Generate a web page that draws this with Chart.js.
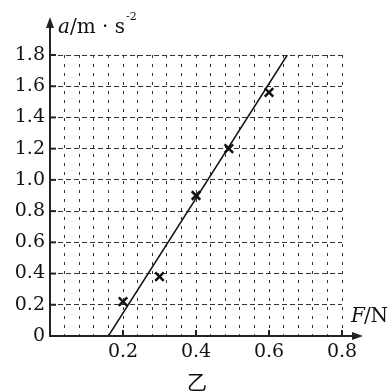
<!DOCTYPE html>
<html><head><meta charset="utf-8">
<style>html,body{margin:0;padding:0;background:#fff;}#wrap{width:391px;height:392px;position:relative;}</style>
<script src="https://cdn.jsdelivr.net/npm/chart.js@4/dist/chart.umd.min.js"></script>
</head><body>
<div id="wrap"><canvas id="c" width="391" height="392"></canvas></div>
<script>
// Data
const forceN = [0.2, 0.3, 0.4, 0.49, 0.6];
const accel = [0.22, 0.38, 0.9, 1.2, 1.56];
const fitLineF = [0.16, 0.65];
const fitLineA = [0, 1.8];
const xTickLabels = ['0.2', '0.4', '0.6', '0.8'];
const yTickLabels = ['0', '0.2', '0.4', '0.6', '0.8', '1.0', '1.2', '1.4', '1.6', '1.8'];

const serif = '"DejaVu Serif", "Liberation Serif", serif';

const decor = {
  id: 'decor',
  afterDraw(chart) {
    const ctx = chart.ctx, xs = chart.scales.x, ys = chart.scales.y;
    const x0 = xs.getPixelForValue(0), y0 = ys.getPixelForValue(0);
    ctx.save();
    ctx.strokeStyle = '#222'; ctx.fillStyle = '#222'; ctx.lineWidth = 2;
    // y axis with arrow
    ctx.beginPath(); ctx.moveTo(x0, y0 + 1); ctx.lineTo(x0, 24); ctx.stroke();
    ctx.beginPath(); ctx.moveTo(x0, 17); ctx.lineTo(x0 - 4, 28); ctx.lineTo(x0 + 4, 28); ctx.closePath(); ctx.fill();
    // x axis with arrow
    ctx.beginPath(); ctx.moveTo(x0 - 1, y0); ctx.lineTo(356, y0); ctx.stroke();
    ctx.beginPath(); ctx.moveTo(363, y0); ctx.lineTo(352, y0 - 4); ctx.lineTo(352, y0 + 4); ctx.closePath(); ctx.fill();
    // tick marks
    yTickLabels.forEach(t => { const v = parseFloat(t); if (v === 0) return; const p = ys.getPixelForValue(v);
      ctx.beginPath(); ctx.moveTo(x0, p); ctx.lineTo(x0 + 6, p); ctx.stroke(); });
    xTickLabels.forEach(t => { const p = xs.getPixelForValue(parseFloat(t));
      ctx.beginPath(); ctx.moveTo(p, y0); ctx.lineTo(p, y0 - 6); ctx.stroke(); });
    // axis titles
    ctx.fillStyle = '#111'; ctx.textBaseline = 'alphabetic'; ctx.textAlign = 'left';
    ctx.font = 'italic 20px ' + serif; ctx.fillText('a', 58, 33);
    let w = ctx.measureText('a').width;
    ctx.font = '20px ' + serif; ctx.fillText('/m · s', 58 + w, 33);
    w += ctx.measureText('/m · s').width;
    ctx.font = '11px ' + serif; ctx.fillText('-2', 58 + w + 1, 20);
    ctx.font = 'italic 20px ' + serif; ctx.fillText('F', 351, 322);
    let wf = ctx.measureText('F').width;
    ctx.font = '20px ' + serif; ctx.fillText('/N', 351 + wf - 1, 322);
    ctx.textAlign = 'center';
    ctx.font = '20px "Noto Sans CJK SC", sans-serif'; ctx.fillText('乙', 197, 390);
    ctx.restore();
  }
};

new Chart(document.getElementById('c'), {
  type: 'scatter',
  data: {
    datasets: [
      { data: forceN.map((f, i) => ({ x: f, y: accel[i] })), pointStyle: 'crossRot', pointRadius: 6,
        borderColor: '#111', backgroundColor: '#111', borderWidth: 2.5, pointHoverRadius: 6 },
      { data: fitLineF.map((f, i) => ({ x: f, y: fitLineA[i] })), showLine: true, pointRadius: 0,
        borderColor: '#111', borderWidth: 1.5 }
    ]
  },
  options: {
    responsive: false, animation: false,
    layout: { padding: { top: 55, right: 49, left: 0, bottom: 0 } },
    plugins: { legend: { display: false }, tooltip: { enabled: false } },
    scales: {
      x: {
        type: 'linear', min: 0, max: 0.8,
        afterFit(s) { s.height = 56; },
        afterBuildTicks(s) { const t = []; for (let i = 0; i <= 20; i++) t.push({ value: i * 0.04 }); s.ticks = t; },
        ticks: {
          autoSkip: false, maxRotation: 0, padding: 5, color: '#111',
          font: { family: serif, size: 19 },
          callback(v) { const k = Math.round(v * 100); if (k === 0 || k % 20 !== 0) return ''; return xTickLabels[k / 20 - 1]; }
        },
        grid: { color: '#333', lineWidth: 1, drawTicks: false, tickLength: 0 },
        border: { display: false, dash: [3, 6] }
      },
      y: {
        type: 'linear', min: 0, max: 1.8,
        afterFit(s) { s.width = 50; },
        afterBuildTicks(s) { s.ticks = yTickLabels.map(t => ({ value: parseFloat(t) })); },
        ticks: {
          autoSkip: false, padding: 5, color: '#111',
          font: { family: serif, size: 19 },
          callback(v) { const i = Math.round(v / 0.2); return yTickLabels[i]; }
        },
        grid: { color: '#333', lineWidth: 1, drawTicks: false, tickLength: 0 },
        border: { display: false, dash: [5, 3] }
      }
    }
  },
  plugins: [decor]
});
</script>
</body></html>
